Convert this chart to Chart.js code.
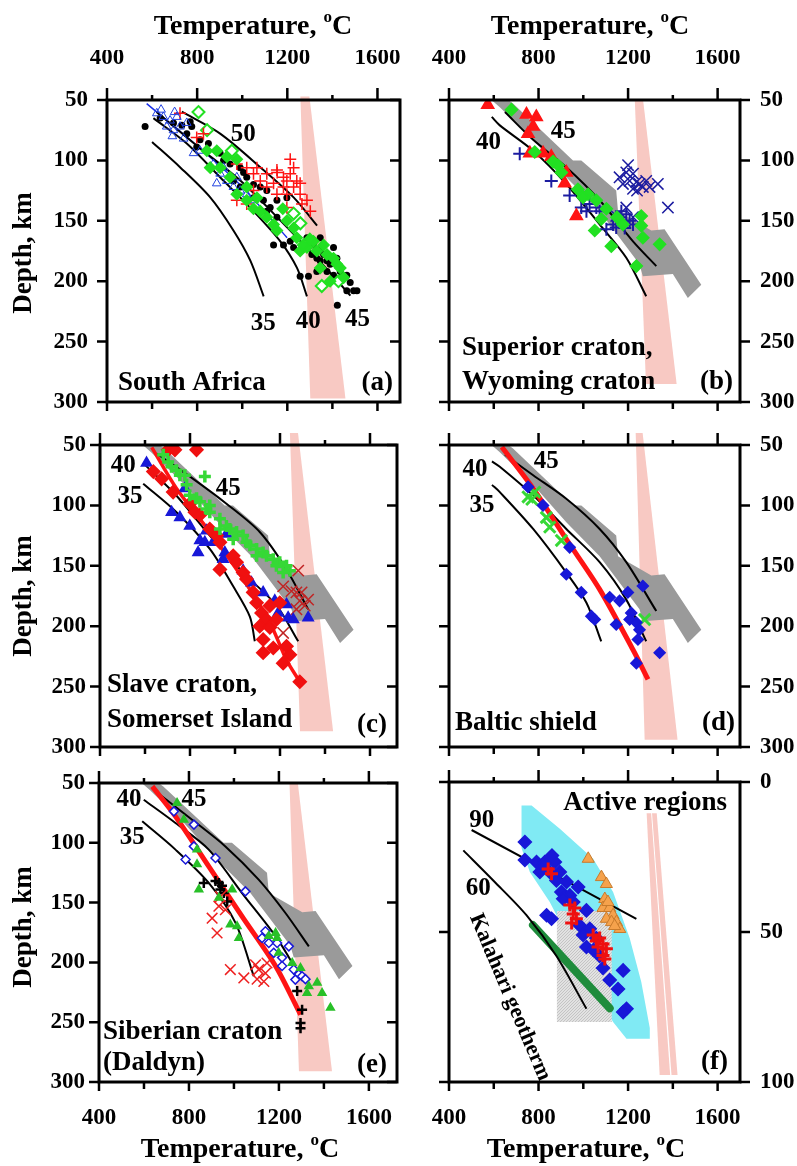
<!DOCTYPE html>
<html>
<head>
<meta charset="utf-8">
<script src="https://cdn.jsdelivr.net/npm/chart.js@4.4.0/dist/chart.umd.min.js"></script>
<style>
html, body { margin: 0; padding: 0; background: #fff; }
#fig { position: relative; width: 797px; height: 1166px; overflow: hidden;
       font-family: 'Liberation Serif', 'Times New Roman', serif; font-weight: bold; color: #000; }
#fig canvas { position: absolute; left: 0; top: 0; }
.ttl { position: absolute; font-size: 28px; white-space: nowrap; transform: translate(-50%, -50%); line-height: 1; }
.ttl sup { font-size: 17px; position: relative; top: -2px; vertical-align: super; line-height: 0; }
.ylab { position: absolute; font-size: 27px; white-space: nowrap; line-height: 1;
        transform: translate(-50%, -50%) rotate(-90deg); }
</style>
</head>
<body>
<div id="fig">
  <div class="ttl" style="left:253px;top:25px">Temperature, <sup>o</sup>C</div>
  <div class="ttl" style="left:590px;top:25px">Temperature, <sup>o</sup>C</div>
  <div class="ttl" style="left:240px;top:1148px">Temperature, <sup>o</sup>C</div>
  <div class="ttl" style="left:586px;top:1148px">Temperature, <sup>o</sup>C</div>
  <div class="ylab" style="left:22px;top:253px">Depth, km</div>
  <div class="ylab" style="left:22px;top:596px">Depth, km</div>
  <div class="ylab" style="left:22px;top:927px">Depth, km</div>
</div>
<script>
// ==================== EJES ====================
const tempTicks = [400, 800, 1200, 1600];
const tempMinor = [600, 1000, 1400];
const depthTicks = [50, 100, 150, 200, 250, 300];
const depthTicksF = [0, 50, 100];

// ==================== CAMPOS COMUNES ====================
// campo gris (paneles b-e), [T, profundidad]
const grayField = [[590,50],[665,50],[686,53],[954,100],[991,100],[1147,125],[1155,142],[1304,158],[1363,157],
  [1527,203],[1467,214],[1400,194],[1266,196],[1251,186],[1162,164],[1073,142],[924,114],[776,83],[627,56]];

// ==================== (a) SOUTH AFRICA ====================
const aPink = [[1258,47],[1298,47],[1458,297],[1302,297]];
const aGeo35 = [[600,84.7],[724,105.6],[858,130.6],[961,158],[1036,183],[1095,212.5]];
const aGeo40 = [[606,65],[754,86],[902,114],[1050,142],[1169,167],[1243,189],[1287,212.5]];
const aGeo45 = [[620,60],[800,88],[1000,118],[1160,148],[1300,175],[1400,195],[1480,212]];
const aGeo50 = [[732,59.7],[902,77.8],[1080,105.6],[1228,130.6],[1332,154]];
const aFit = [[576,53],[800,88],[1000,122],[1199,164]];
const aBlackDots = [[569,72],[636,65],[695,69],[732,71],[769,68],[754,78],[776,72],[813,83],[850,86],[798,89],
  [902,94],[917,100],[946,103],[991,106],[961,117],[1006,110],[1020,114],[1050,120],[991,122],[1080,122],
  [1109,125],[1050,131],[1094,133],[1124,139],[1154,133],[1154,147],[1109,142],[1198,131],[1139,170],[1183,170],
  [1213,167],[1228,172],[1287,164],[1316,170],[1346,164],[1353,172],[1361,178],[1376,183],[1405,172],[1420,181],
  [1390,186],[1346,183],[1331,192],[1376,192],[1405,195],[1435,192],[1464,195],[1479,201],[1494,208],[1464,208],
  [1509,208],[1257,196],[1294,196],[1331,181],[1309,178],[1422,220]];
const aGreenFilled = [[843,92],[887,92],[932,97],[976,99],[902,106],[946,114],[858,106],[1020,122],[1065,131],
  [1080,142],[1109,147],[1139,153],[1154,158],[1198,150],[1228,156],[1242,164],[1257,175],[1287,172],[1316,167],
  [1331,175],[1361,170],[1376,178],[1405,181],[1420,186],[1435,189],[1346,189],[1390,200],[1450,197],[1020,133],
  [976,128],[1270,170],[1300,165],[1180,140],[1050,140]];
const aGreenOpen = [[806,60],[844,75],[954,92],[1228,144],[1258,152],[1353,204],[1427,200]];
const aRedPlus = [[724,61],[798,81],[828,78],[976,103],[1020,106],[1050,111],[1065,106],[1109,111],[1154,108],
  [1183,114],[1198,117],[1213,111],[1242,117],[1257,119],[1228,122],[1183,122],[1139,119],[1109,122],[1154,128],
  [1198,128],[1257,128],[1287,133],[1302,142],[1265,136],[1198,139],[1080,117],[976,133],[1020,136],[1050,125],
  [1213,99],[1228,106],[1155,110]];
const aBlueTri = [[621,61],[650,64],[680,67],[710,64],[665,72],[695,75],[724,72],[754,69],[784,94],[813,92],
  [872,103],[902,111],[932,117],[961,122],[991,125],[1020,128],[1050,133],[917,106],[976,114],[887,119],
  [640,58],[700,60],[690,80],[740,82]];

// ==================== (b) SUPERIOR / WYOMING ====================
const bPink = [[1230,50],[1267,50],[1417,285],[1280,285]];
const bGeo40 = [[591,64],[627,71],[776,92],[924,119.5],[1073,153],[1192,180.6],[1281,212.5]];
const bGeo45 = [[650,60],[776,83],[924,105.6],[1073,133],[1222,167],[1326,187.5]];
const bRedTri = [[573,54],[746,62],[790,64],[776,72],[753,78],[761,94],[820,94],[857,97],[924,110],[917,119],[969,146]];
const bGreenDia = [[679,58],[783,93],[865,101],[887,104],[902,110],[976,124],[1021,128],[1058,133],[999,130.6],
  [1103,140],[1080,148.6],[1051,158],[1125,171],[1259,146],[1259,154],[1266,164],[1341,169.5],[1237,187.5],
  [1177,153],[1150,147]];
const bBluePlus = [[716,94.5],[857,117],[939,129],[991,139],[1028,136],[1058,139],[1073,142],[1014,142],[1103,157],
  [1133,153],[1162,147],[1177,150],[1192,144.5],[1207,150],[1222,153],[1170,142],[1147,155.6],[1185,156]];
const bBlueX = [[1162,114],[1192,110],[1222,111],[1207,117],[1237,118],[1251,119.5],[1266,122],[1281,117],
  [1296,122],[1333,119.5],[1177,119.5],[1222,123.6],[1378,139],[1192,139],[1147,146],[1222,147],[1240,125],[1200,104]];

// ==================== (c) SLAVE / SOMERSET ====================
const cPink = [[1244,40],[1280,40],[1436,287],[1289,287]];
const cGeo35 = [[592,82],[740,105.6],[888,136],[992,167],[1066,192],[1088,212.5]];
const cGeo40 = [[592,65],[740,92],[888,125],[1036,155.6],[1185,183],[1281,212.5]];
const cGeo45 = [[651,57],[814,78],[962,98.6],[1110,122],[1229,153],[1325,186]];
const cRedLine = [[630,52],[740,86],[888,122],[1036,161],[1155,197],[1229,228],[1288,246]];
const cRedDia = [[703,54],[733,54],[829,54],[637,72],[674,78],[725,89],[799,98.6],[822,105.6],[844,108],
  [888,119.5],[918,125],[933,130.6],[933,153],[992,141.7],[1007,147],[1036,155.6],[1051,161],[1081,172],
  [1096,180.6],[1118,189],[1140,194.5],[1110,200],[1155,201],[1184,194.5],[1125,211],[1170,218],[1125,222],
  [1229,216.7],[1244,223.6],[1214,230.6],[1288,246],[1155,183],[1199,180.6]];
const cDarkRedX = [[1281,154],[1214,167],[1251,171],[1273,172],[1296,172],[1325,178],[1288,179],[1310,183],
  [1273,186],[1214,205.6]];
const cBlueTri = [[607,65],[777,86],[718,105.6],[755,110],[799,117],[873,121],[844,129],[866,130.6],[962,123.6],
  [903,130.6],[836,139],[955,139],[947,144.5],[1036,154],[1073,164],[1125,172],[1177,179],[1192,189],[1229,182],
  [1236,193],[1259,194.5],[1325,193]];
const cGreenPlus = [[681,58],[703,64],[718,68],[740,71],[755,75],[777,75],[866,76],[829,94],[844,97],[873,103],
  [888,105.6],[933,111],[962,117],[977,119.5],[1007,122],[1036,125],[1051,130.6],[1066,133],[1096,136],[1125,139],
  [1140,141.7],[1170,144.5],[1199,147],[1229,150],[1244,154],[888,100],[799,91.7],[785,83],[933,119.5],[992,128],
  [1096,141.7],[1184,150],[1214,155.6]];

// ==================== (d) BALTIC SHIELD ====================
const dPink = [[1234,40],[1265,40],[1421,294],[1274,294]];
const dGeo35 = [[592,83],[627,89],[776,119.5],[924,155.6],[1014,180.6],[1080,212.5]];
const dGeo40 = [[592,63.6],[627,68],[776,91.7],[924,119.5],[1073,147],[1192,178],[1281,212.5]];
const dGeo45 = [[650,58],[776,75],[924,94.5],[1073,119.5],[1192,147],[1326,187.5]];
const dRedLine = [[636,51.7],[776,86],[924,128],[1073,169.5],[1222,219.5],[1289,244]];
const dBlueDia = [[753,84.7],[820,100],[939,134.7],[924,157],[991,172],[1036,191.7],[1051,194.5],[1118,176],
  [1147,198.6],[1162,179],[1199,172],[1266,166.7],[1214,189],[1207,194.5],[1237,197],[1251,203],[1244,211],
  [1237,230.6],[1341,222]];
const dGreenX = [[753,93],[783,89],[770,95],[835,110],[850,118],[902,129],[1274,194.5]];

// ==================== (e) SIBERIAN (DALDYN) ====================
const ePink = [[1247,50],[1284,50],[1436,291],[1289,291]];
const eGeo35 = [[592,82],[740,105.7],[888,133.6],[1007,167],[1088,211.6]];
const eGeo40 = [[599,64],[740,83.4],[888,105.7],[1036,142],[1185,178],[1259,200.5],[1288,211.6]];
const eGeo45 = [[651,57],[814,80.7],[962,103],[1110,130.8],[1229,158.7],[1333,186.6]];
const eRedLine = [[637,52.8],[740,77.9],[888,119.7],[1036,161.5],[1185,203],[1296,243.7]];
const eBlueOpenDia = [[733,73.7],[822,84.8],[822,103],[785,114],[918,112.7],[1051,140.6],[1140,174],[1125,179.6],
  [1155,183.8],[1192,183.8],[1244,186.6],[1177,192],[1214,196],[1214,203],[1266,206],[1288,210],[1303,211.6],
  [1318,214],[1273,214.4]];
const eGreenTri = [[747,66.7],[777,80.7],[836,105.7],[836,118],[844,139],[933,146],[992,139],[984,168.4],[1014,169.8],
  [1022,179.6],[1155,178],[1192,179.6],[1199,192],[1259,200.5],[1296,204.7],[1333,220],[1325,225.6],[1370,217],
  [1392,225.6],[1429,238],[1185,175.4]];
const eRedX = [[933,153],[962,156],[903,163],[925,175.4],[984,206],[1044,213],[1096,202],[1110,206],[1103,214],
  [1133,216],[1140,209],[1147,200.5],[940,145]];
const eBlackPlus = [[866,133.6],[918,132],[933,133.6],[947,136],[955,142],[940,139],[970,149],[1281,224],
  [1303,239.5],[1296,250.6],[1296,255]];

// ==================== (f) ACTIVE REGIONS ====================
const fCyan = [[724,7.8],[769,7.8],[895,15.6],[1044,25.6],[1133,36.7],[1207,52],[1259,66.7],[1297,82],[1297,85.6],
  [1193,85.6],[1133,80],[1044,69],[940,53],[850,40],[761,30],[724,22]];
const fGrayBox = [[882,43],[1127,43],[1127,80],[882,80]];
const fPinkA = [[1283,10.4],[1303,10.4],[1388,97.7],[1341,97.7]];
const fPinkB = [[1307,10.4],[1328,10.4],[1421,97.7],[1394,97.7]];
const fGreenBand = [[775,47.7],[1118,75.4]];
const fGeo90 = [[501,16],[1237,45.6]];
const fGeo60 = [[464,22.8],[600,33],[746,44.4],[880,58],[1014,75.6]];
const fBlueDia = [[739,20],[739,26],[791,26.7],[828,26.7],[873,26.7],[806,30],[850,30],[880,32.8],[925,33.3],
  [977,35],[902,36.7],[940,37.8],[910,38.9],[836,44.4],[858,45.6],[1014,42.8],[984,47.8],[1029,48.9],[999,51],
  [1058,52],[1014,55],[1073,58],[1088,62],[1178,62.8],[1118,66],[1155,69],[1193,75.6],[1178,76.7],[821,27.8],
  [895,30],[860,24.5],[955,40],[1045,56]];
const fRedPlus = [[843,29],[858,30.6],[940,41],[962,42],[955,44],[969,45.6],[948,47],[1044,51],[1058,53],[1073,52],
  [1088,54],[1103,55.6],[1088,57.8],[1096,59],[1066,55]];
const fOrangeTri = [[1022,25.6],[1081,31.7],[1103,34],[1096,39],[1088,42],[1118,42],[1133,44.4],[1148,46.7],
  [1163,49],[1103,45.6],[1126,46.7],[1110,40],[1140,48]];

// ==================== ESTILO ====================
const W = 797, H = 1166;
const FONT = "'Liberation Serif', 'Times New Roman', serif";
const PINK = '#f8c9c3';
const GRAY = '#9a9a9a';
const GREEN = '#22e022';
const BLUE = '#1818d8';
const NAVY = '#1c1ca0';
const RED = '#ff1414';

const xy = arr => arr.map(([x, y]) => ({x, y}));

function marks(arr, style) {
  return Object.assign({data: xy(arr), showLine: false, order: 1, pointBorderWidth: 1.5}, style);
}

function curve(arr, color, width, extra) {
  return Object.assign({
    data: xy(arr), showLine: true, pointRadius: 0, borderColor: color, borderWidth: width,
    tension: 0.3, order: 5, fill: false
  }, extra);
}

// relleno punteado gris claro del panel (f)
function stipple() {
  const c = document.createElement('canvas');
  c.width = 3; c.height = 3;
  const g = c.getContext('2d');
  g.fillStyle = '#e2e2e2'; g.fillRect(0, 0, 3, 3);
  g.fillStyle = '#c4c4c4'; g.fillRect(0, 0, 1, 1); g.fillRect(2, 1, 1, 1); g.fillRect(1, 2, 1, 1);
  return g.createPattern(c, 'repeat');
}

// ==================== PLUGINS ====================
const fieldsPlugin = {
  id: 'fields',
  beforeDatasetsDraw(chart, args, o) {
    const {ctx, chartArea: a, scales: {x, y}} = chart;
    (o.areas || []).forEach(f => {
      ctx.save();
      if (f.clip !== false) {
        ctx.beginPath(); ctx.rect(a.left, a.top, a.width, a.height); ctx.clip();
      }
      ctx.beginPath();
      f.pts.forEach(([t, d], i) => {
        const px = x.getPixelForValue(t), py = y.getPixelForValue(d);
        i ? ctx.lineTo(px, py) : ctx.moveTo(px, py);
      });
      ctx.closePath();
      ctx.fillStyle = f.color;
      ctx.fill();
      ctx.restore();
    });
  }
};

const framePlugin = {
  id: 'frame',
  afterDraw(chart, args, o) {
    const {ctx, chartArea: a, scales: {x, y}} = chart;
    ctx.save();
    ctx.strokeStyle = '#000';
    ctx.lineWidth = 3;
    ctx.strokeRect(a.left, a.top, a.width, a.height);
    ctx.lineWidth = 2.5;
    ctx.beginPath();
    tempTicks.forEach(v => {
      const p = x.getPixelForValue(v);
      ctx.moveTo(p, a.top); ctx.lineTo(p, a.top - 12);
      ctx.moveTo(p, a.bottom); ctx.lineTo(p, a.bottom + 9);
    });
    tempMinor.forEach(v => {
      const p = x.getPixelForValue(v);
      ctx.moveTo(p, a.top); ctx.lineTo(p, a.top - 5);
      ctx.moveTo(p, a.bottom); ctx.lineTo(p, a.bottom + 7);
    });
    o.yTicks.forEach(v => {
      const p = y.getPixelForValue(v);
      ctx.moveTo(a.left, p); ctx.lineTo(a.left - 10, p);
      ctx.moveTo(a.right, p); ctx.lineTo(a.right + (o.rightIn ? -10 : 10), p);
    });
    ctx.stroke();
    ctx.restore();
  }
};

const notesPlugin = {
  id: 'notes',
  afterDatasetsDraw(chart, args, o) {
    const {ctx, chartArea: a, scales: {x, y}} = chart;
    ctx.save();
    ctx.fillStyle = '#000';
    ctx.textBaseline = 'middle';
    (o.curveLabels || []).forEach(l => {
      ctx.font = `bold 25px ${FONT}`;
      ctx.textAlign = 'center';
      ctx.fillText(l.t, x.getPixelForValue(l.x), y.getPixelForValue(l.y));
    });
    (o.texts || []).forEach(t => {
      ctx.font = `bold ${t.size || 27}px ${FONT}`;
      ctx.textAlign = t.align;
      const px = t.align === 'left' ? a.left + t.dx : a.right - t.dx;
      const py = t.fromTop ? a.top + t.dy : a.bottom - t.dy;
      ctx.fillText(t.t, px, py);
    });
    (o.rotated || []).forEach(t => {
      ctx.save();
      ctx.font = `bold 22px ${FONT}`;
      ctx.textAlign = 'left';
      ctx.translate(x.getPixelForValue(t.x), y.getPixelForValue(t.y));
      ctx.rotate(t.angle * Math.PI / 180);
      ctx.fillText(t.t, 0, 0);
      ctx.restore();
    });
    ctx.restore();
  }
};

// ==================== PANELES ====================
function buildPanel(p) {
  const canvas = document.createElement('canvas');
  canvas.width = W; canvas.height = H;
  document.getElementById('fig').prepend(canvas);
  const XH = 50, YW = 60;
  const pad = {
    left: p.box.l - (p.yPos === 'left' ? YW : 0),
    right: W - p.box.r - (p.yPos === 'right' ? YW : 0),
    top: p.box.t - (p.xPos === 'top' ? XH : 0),
    bottom: H - p.box.b - (p.xPos === 'bottom' ? XH : 0)
  };
  const tickFont = {family: FONT, size: 23, weight: 'bold'};
  new Chart(canvas, {
    type: 'scatter',
    data: {datasets: p.datasets},
    options: {
      responsive: false,
      animation: false,
      devicePixelRatio: 1,
      layout: {padding: pad},
      plugins: {
        legend: {display: false},
        tooltip: {enabled: false},
        fields: {areas: p.areas},
        frame: {yTicks: p.yTicks, rightIn: p.yPos === 'left'},
        notes: {curveLabels: p.curveLabels, texts: p.texts, rotated: p.rotated}
      },
      scales: {
        x: {
          type: 'linear', position: p.xPos, min: 400, max: p.xMax,
          afterBuildTicks: s => { s.ticks = tempTicks.map(v => ({value: v})); },
          afterFit: s => { s.height = XH; },
          grid: {display: false, drawTicks: false},
          border: {display: false},
          ticks: {display: p.showX, color: '#000', font: tickFont, padding: p.xPos === 'top' ? 28 : 22,
                  maxRotation: 0, autoSkip: false, callback: v => String(v)}
        },
        y: {
          type: 'linear', position: p.yPos, reverse: true, min: p.yMin, max: p.yMax,
          afterBuildTicks: s => { s.ticks = p.yTicks.map(v => ({value: v})); },
          afterFit: s => { s.width = YW; },
          grid: {display: false, drawTicks: false},
          border: {display: false},
          ticks: {display: true, color: '#000', font: tickFont, padding: p.yPad,
                  autoSkip: false, callback: v => String(v)}
        }
      }
    },
    plugins: [fieldsPlugin, framePlugin, notesPlugin]
  });
}

const geoLines = (l35, l40, l45) => [curve(l35, '#000', 2), curve(l40, '#000', 2), curve(l45, '#000', 2)];

document.addEventListener('DOMContentLoaded', function() {
  const gray = {pts: grayField, color: GRAY};

  // (a)
  buildPanel({
    box: {l: 107, r: 400, t: 100, b: 402}, xPos: 'top', yPos: 'left', showX: true, xMax: 1700,
    yMin: 50, yMax: 300, yTicks: depthTicks, yPad: 19,
    areas: [{pts: aPink, color: PINK, clip: false}],
    datasets: [
      ...geoLines(aGeo35, aGeo40, aGeo45), curve(aGeo50, '#000', 2),
      curve(aFit, '#1a30e8', 1.5),
      marks(aGreenFilled, {pointStyle: 'rectRot', pointRadius: 5.5, pointBackgroundColor: GREEN, pointBorderColor: GREEN}),
      marks(aBlueTri, {pointStyle: 'triangle', pointRadius: 5, pointBackgroundColor: 'rgba(0,0,0,0)', pointBorderColor: '#2040e0', pointBorderWidth: 1}),
      marks(aRedPlus, {pointStyle: 'cross', pointRadius: 6, pointBorderColor: RED, pointBorderWidth: 1.5}),
      marks(aGreenOpen, {pointStyle: 'rectRot', pointRadius: 6, pointBackgroundColor: '#fff', pointBorderColor: GREEN, pointBorderWidth: 2}),
      marks(aBlackDots, {pointStyle: 'circle', pointRadius: 3.5, pointBackgroundColor: '#000', pointBorderColor: '#000', pointBorderWidth: 0})
    ],
    curveLabels: [{t: '50', x: 1005, y: 79}, {t: '35', x: 1093, y: 235}, {t: '40', x: 1293, y: 233}, {t: '45', x: 1511, y: 232}],
    texts: [{t: 'South Africa', align: 'left', dx: 11, dy: 19}, {t: '(a)', align: 'right', dx: 7, dy: 19}]
  });

  // (b)
  buildPanel({
    box: {l: 449, r: 740, t: 100, b: 402}, xPos: 'top', yPos: 'right', showX: true, xMax: 1700,
    yMin: 50, yMax: 300, yTicks: depthTicks, yPad: 20,
    areas: [{pts: bPink, color: PINK}, gray],
    datasets: [
      curve(bGeo40, '#000', 2), curve(bGeo45, '#000', 2),
      marks(bGreenDia, {pointStyle: 'rectRot', pointRadius: 6, pointBackgroundColor: GREEN, pointBorderColor: GREEN}),
      marks(bRedTri, {pointStyle: 'triangle', pointRadius: 7, pointBackgroundColor: RED, pointBorderColor: RED}),
      marks(bBluePlus, {pointStyle: 'cross', pointRadius: 6.5, pointBorderColor: NAVY, pointBorderWidth: 2}),
      marks(bBlueX, {pointStyle: 'crossRot', pointRadius: 8, pointBorderColor: NAVY, pointBorderWidth: 1.5})
    ],
    curveLabels: [{t: '40', x: 576, y: 85}, {t: '45', x: 910, y: 76}],
    texts: [{t: 'Superior craton,', align: 'left', dx: 13, dy: 54}, {t: 'Wyoming craton', align: 'left', dx: 13, dy: 20},
            {t: '(b)', align: 'right', dx: 7, dy: 20}]
  });

  // (c)
  buildPanel({
    box: {l: 100, r: 397, t: 445, b: 747}, xPos: 'bottom', yPos: 'left', showX: false, xMax: 1720,
    yMin: 50, yMax: 300, yTicks: depthTicks, yPad: 14,
    areas: [{pts: cPink, color: PINK, clip: false}, gray],
    datasets: [
      ...geoLines(cGeo35, cGeo40, cGeo45),
      curve(cRedLine, RED, 3.5, {order: 4}),
      marks(cGreenPlus, {pointStyle: 'cross', pointRadius: 6, pointBorderColor: '#36d836', pointBorderWidth: 3.5}),
      marks(cRedDia, {pointStyle: 'rectRot', pointRadius: 6.5, pointBackgroundColor: '#f01010', pointBorderColor: '#f01010'}),
      marks(cBlueTri, {pointStyle: 'triangle', pointRadius: 6, pointBackgroundColor: BLUE, pointBorderColor: BLUE}),
      marks(cDarkRedX, {pointStyle: 'crossRot', pointRadius: 8, pointBorderColor: '#c02424', pointBorderWidth: 1.5})
    ],
    curveLabels: [{t: '40', x: 503, y: 67}, {t: '45', x: 970, y: 86}, {t: '35', x: 533, y: 93}],
    texts: [{t: 'Slave craton,', align: 'left', dx: 7, dy: 62}, {t: 'Somerset Island', align: 'left', dx: 7, dy: 27},
            {t: '(c)', align: 'right', dx: 10, dy: 22}]
  });

  // (d)
  buildPanel({
    box: {l: 449, r: 740, t: 445, b: 747}, xPos: 'bottom', yPos: 'right', showX: false, xMax: 1700,
    yMin: 50, yMax: 300, yTicks: depthTicks, yPad: 20,
    areas: [{pts: dPink, color: PINK, clip: false}, gray],
    datasets: [
      ...geoLines(dGeo35, dGeo40, dGeo45),
      curve(dRedLine, RED, 5, {order: 4}),
      marks(dBlueDia, {pointStyle: 'rectRot', pointRadius: 5.5, pointBackgroundColor: BLUE, pointBorderColor: BLUE}),
      marks(dGreenX, {pointStyle: 'crossRot', pointRadius: 8, pointBorderColor: '#36d836', pointBorderWidth: 3})
    ],
    curveLabels: [{t: '45', x: 835, y: 64}, {t: '40', x: 516, y: 70}, {t: '35', x: 547, y: 100}],
    texts: [{t: 'Baltic shield', align: 'left', dx: 6, dy: 24}, {t: '(d)', align: 'right', dx: 5, dy: 24}]
  });

  // (e)
  buildPanel({
    box: {l: 99, r: 397, t: 783, b: 1082}, xPos: 'bottom', yPos: 'left', showX: true, xMax: 1725,
    yMin: 50, yMax: 300, yTicks: depthTicks, yPad: 14,
    areas: [{pts: ePink, color: PINK}, gray],
    datasets: [
      ...geoLines(eGeo35, eGeo40, eGeo45),
      curve(eRedLine, RED, 5, {order: 4}),
      marks(eGreenTri, {pointStyle: 'triangle', pointRadius: 4.5, pointBackgroundColor: '#28c028', pointBorderColor: '#28c028'}),
      marks(eBlueOpenDia, {pointStyle: 'rectRot', pointRadius: 4.5, pointBackgroundColor: '#fff', pointBorderColor: BLUE, pointBorderWidth: 1.5}),
      marks(eRedX, {pointStyle: 'crossRot', pointRadius: 7.5, pointBorderColor: '#ee2020', pointBorderWidth: 1.5}),
      marks(eBlackPlus, {pointStyle: 'cross', pointRadius: 5, pointBorderColor: '#000', pointBorderWidth: 2.5})
    ],
    curveLabels: [{t: '40', x: 533, y: 64}, {t: '45', x: 822, y: 64}, {t: '35', x: 548, y: 96}],
    texts: [{t: 'Siberian craton', align: 'left', dx: 4, dy: 50}, {t: '(Daldyn)', align: 'left', dx: 4, dy: 19},
            {t: '(e)', align: 'right', dx: 10, dy: 17}]
  });

  // (f)
  buildPanel({
    box: {l: 449, r: 740, t: 782, b: 1082}, xPos: 'bottom', yPos: 'right', showX: true, xMax: 1700,
    yMin: 0, yMax: 100, yTicks: depthTicksF, yPad: 20,
    areas: [{pts: fCyan, color: '#80eaf4'}, {pts: fGrayBox, color: stipple()},
            {pts: fPinkA, color: PINK}, {pts: fPinkB, color: PINK}],
    datasets: [
      curve(fGreenBand, '#1f8c3c', 8, {borderCapStyle: 'round', tension: 0, order: 6}),
      curve(fGeo90, '#000', 2), curve(fGeo60, '#000', 2),
      marks(fBlueDia, {pointStyle: 'rectRot', pointRadius: 6.5, pointBackgroundColor: BLUE, pointBorderColor: BLUE}),
      marks(fOrangeTri, {pointStyle: 'triangle', pointRadius: 7, pointBackgroundColor: '#f5a24c', pointBorderColor: '#c87b2c', pointBorderWidth: 1}),
      marks(fRedPlus, {pointStyle: 'cross', pointRadius: 6.5, pointBorderColor: '#ee1010', pointBorderWidth: 3, order: 0})
    ],
    curveLabels: [{t: '90', x: 546, y: 13}, {t: '60', x: 531, y: 35.5}],
    texts: [{t: 'Active regions', align: 'right', dx: 13, dy: 21, fromTop: true}, {t: '(f)', align: 'right', dx: 12, dy: 20}],
    rotated: [{t: 'Kalahari geotherm', x: 516, y: 44.3, angle: 67}]
  });
});
</script>
</body>
</html>
